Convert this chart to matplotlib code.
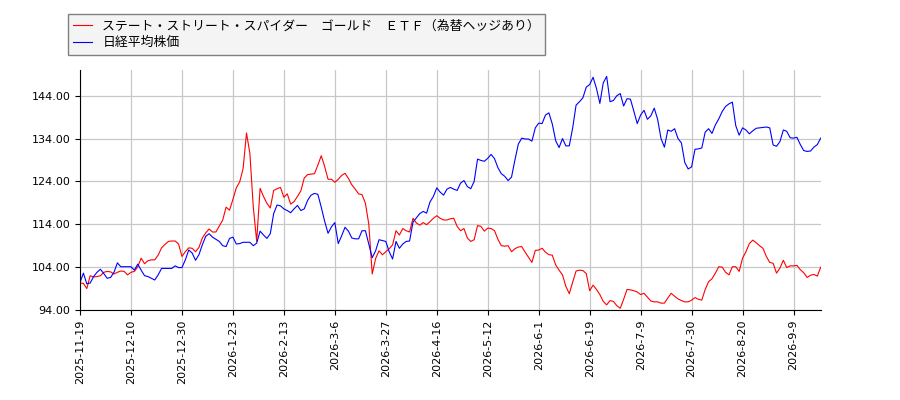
import matplotlib
matplotlib.use("Agg")
import matplotlib.pyplot as plt

plt.rcParams['font.family'] = ['Noto Sans CJK JP', 'DejaVu Sans']

# Series values, one per trading day (index 0 = 2025-11-19)
gold_etf = [
    100.3, 100.2, 99.0, 102.0, 101.7, 101.8, 102.0, 102.8, 103.0, 102.9,
    102.4, 102.8, 103.1, 103.0, 102.2, 102.8, 103.0, 104.1, 106.1, 104.8,
    105.5, 105.7, 105.7, 106.8, 108.5, 109.3, 110.0, 110.1, 110.1, 109.4,
    106.5, 107.6, 108.5, 108.4, 107.6, 108.6, 110.8, 112.0, 112.9, 112.2,
    112.2, 113.6, 115.0, 118.0, 117.3, 119.8, 122.5, 123.9, 127.0, 135.3,
    130.5, 118.0, 110.0, 122.4, 120.5, 118.9, 117.8, 121.9, 122.3, 122.6,
    120.3, 121.1, 118.7, 119.3, 120.5, 121.8, 124.8, 125.6, 125.7, 125.8,
    127.8, 130.0, 127.5, 124.5, 124.5, 123.8, 124.5, 125.4, 125.9, 124.7,
    123.2, 122.2, 121.1, 120.9, 118.9, 114.0, 102.4, 106.0, 107.8, 106.9,
    107.6, 108.3, 109.2, 112.5, 111.5, 113.0, 112.5, 112.2, 115.4, 114.3,
    113.8, 114.4, 113.9, 114.6, 115.4, 116.0, 115.4, 115.0, 115.0, 115.3,
    115.4, 113.5, 112.5, 113.0, 110.8, 110.0, 110.4, 113.7, 113.5, 112.4,
    113.1, 113.0, 112.5, 110.5, 109.0, 108.9, 109.0, 107.6, 108.3, 108.7,
    108.8, 107.5, 106.3, 105.1, 107.9, 108.0, 108.4, 107.5, 106.9, 106.8,
    104.5, 103.3, 102.2, 99.5, 97.8, 100.5, 103.1, 103.3, 103.2, 102.5,
    98.5, 99.8, 98.8, 97.6, 96.0, 95.2, 96.2, 96.0, 95.0, 94.4,
    96.5, 98.8, 98.7, 98.5, 98.2, 97.6, 97.9, 97.0, 96.1, 95.9,
    95.9, 95.6, 95.6, 96.8, 97.9, 97.2, 96.6, 96.2, 95.9, 95.9,
    96.3, 96.9, 96.5, 96.3, 98.8, 100.6, 101.3, 102.6, 104.1, 104.0,
    102.8, 102.2, 104.1, 104.1, 103.0, 106.1, 107.6, 109.5, 110.3, 109.7,
    109.0, 108.4, 106.5, 105.1, 104.9, 102.6, 103.8, 105.6, 103.9, 104.3,
    104.3, 104.4, 103.4, 102.7, 101.6, 102.1, 102.3, 101.9, 104.0,
]

nikkei = [
    100.4, 102.6, 100.1, 100.3, 101.8, 102.8, 103.5, 102.5, 101.4, 101.6,
    102.8, 105.0, 104.1, 104.1, 104.1, 104.1, 103.3, 104.7, 103.3, 102.0,
    101.8, 101.4, 101.0, 102.2, 103.7, 103.7, 103.7, 103.7, 104.3, 103.9,
    103.9, 105.7, 108.0, 107.3, 105.6, 106.9, 109.2, 111.2, 111.8, 111.0,
    110.5, 110.0, 109.0, 108.8, 110.7, 111.0, 109.4, 109.5, 109.8, 109.8,
    109.8, 109.0, 109.6, 112.4, 111.5, 110.7, 111.8, 116.5, 118.5, 118.3,
    117.6, 117.2, 116.7, 117.6, 118.4, 117.2, 117.6, 119.6, 120.8, 121.2,
    121.0, 118.0, 114.7, 111.9, 113.4, 114.4, 109.5, 111.3, 113.3, 112.4,
    110.8, 110.6, 110.6, 112.5, 112.5, 109.3, 106.2, 107.8, 110.4, 110.2,
    110.0, 107.6, 105.9, 110.0, 108.4, 109.4, 110.0, 110.1, 114.5, 115.5,
    116.5, 117.0, 116.6, 119.2, 120.5, 122.5, 121.5, 120.8, 122.2, 122.6,
    122.2, 121.9, 123.6, 124.2, 122.8, 122.3, 124.0, 129.2, 128.9, 128.7,
    129.4, 130.3, 129.3, 127.2, 125.8, 125.2, 124.2, 125.0, 129.0, 132.7,
    134.1, 133.9, 133.9, 133.4, 136.5, 137.6, 137.5, 139.5, 140.0, 137.4,
    133.5, 131.9, 134.0, 132.3, 132.3, 136.5, 141.8, 142.6, 143.5, 146.0,
    146.6, 148.3, 145.7, 142.2, 147.0, 148.5, 142.6, 142.9, 144.0, 144.5,
    141.6, 143.3, 143.2, 140.4, 137.5, 139.5, 140.6, 138.5, 139.3, 141.1,
    138.5, 134.0, 132.0, 136.0, 135.7, 136.3, 134.0, 133.0, 128.4, 126.9,
    127.4, 131.5, 131.6, 131.8, 135.5, 136.3, 135.2, 137.2, 138.6, 140.3,
    141.5, 142.1, 142.5, 137.0, 134.8, 136.5, 136.0, 135.1, 135.8, 136.4,
    136.5, 136.6, 136.7, 136.5, 132.5, 132.2, 133.3, 136.0, 135.7, 134.2,
    134.1, 134.3, 132.6, 131.2, 131.0, 131.1, 132.0, 132.6, 134.1,
]

tick_labels = [
    "2025-11-19", "2025-12-10", "2025-12-30", "2026-1-23", "2026-2-13",
    "2026-3-6", "2026-3-27", "2026-4-16", "2026-5-12", "2026-6-1",
    "2026-6-19", "2026-7-9", "2026-7-30", "2026-8-20", "2026-9-9",
]
y_ticks = [94, 104, 114, 124, 134, 144]

gold_label = "ステート・ストリート・スパイダー　ゴールド　ＥＴＦ（為替ヘッジあり）"
nikkei_label = "日経平均株価"

fig = plt.figure(figsize=(9, 4), dpi=100)
ax = fig.add_axes([0.0889, 0.225, 0.823, 0.6])

x = list(range(len(gold_etf)))
ax.plot(x, gold_etf, color="red", linewidth=0.8, label=gold_label)
ax.plot(range(len(nikkei)), nikkei, color="blue", linewidth=0.8, label=nikkei_label)

ax.set_xlim(0, len(gold_etf) - 1)
ax.set_ylim(94, 150)
ax.set_xticks(range(0, 15 * len(tick_labels), 15))
ax.set_xticklabels(tick_labels, rotation=90, fontsize=8, family="DejaVu Sans")
ax.set_yticks(y_ticks)
ax.set_yticklabels(["%.2f" % v for v in y_ticks], fontsize=8, family="DejaVu Sans")

ax.grid(True, color="#c8c8c8", linewidth=0.9)
ax.set_axisbelow(True)
ax.spines["top"].set_visible(False)
ax.spines["right"].set_visible(False)

leg = fig.legend(loc="upper left", bbox_to_anchor=(0.068, 0.98), fontsize=9.25,
                 fancybox=False, frameon=True, handlelength=1.5,
                 borderpad=0.4, labelspacing=0.3)
leg.get_frame().set_facecolor("#f4f4f4")
leg.get_frame().set_edgecolor("#808080")
leg.get_frame().set_alpha(1)

fig.savefig("out.png", dpi=100)
